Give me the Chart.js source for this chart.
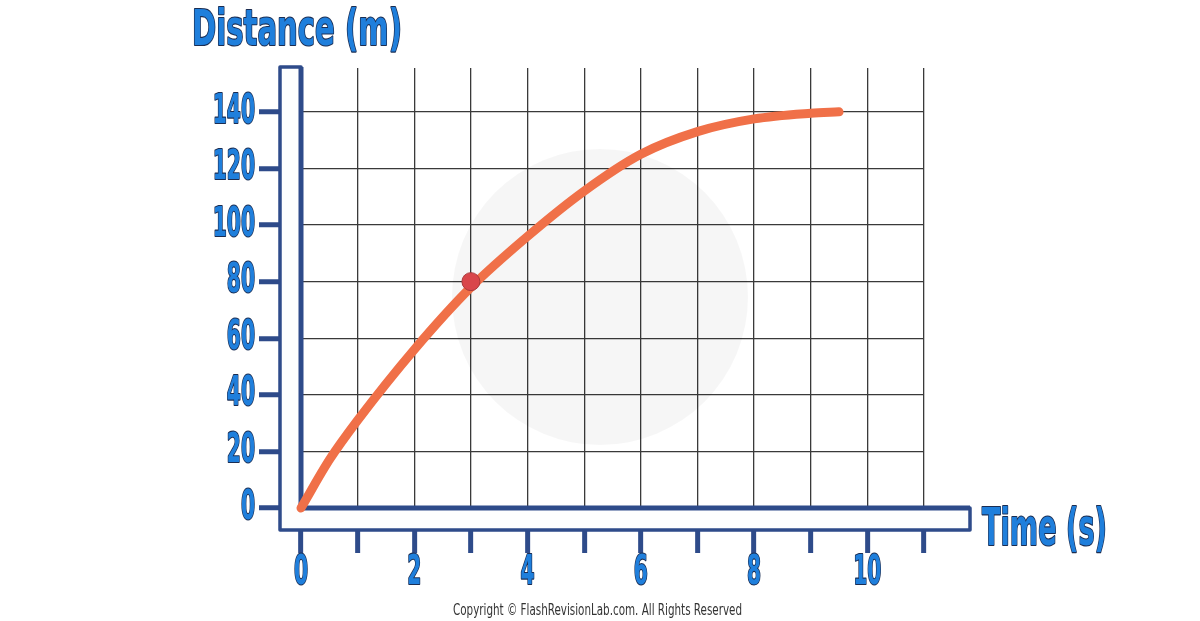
<!DOCTYPE html>
<html>
<head>
<meta charset="utf-8">
<script src="https://cdn.jsdelivr.net/npm/chart.js@4"></script>
<style>
  html, body { margin: 0; padding: 0; background: #ffffff; }
  canvas { display: block; }
</style>
</head>
<body>
<canvas id="distanceChart" width="1200" height="621"></canvas>
<script>
// values
const timeValues = [0, 0.5, 1, 2, 3, 4, 5, 6, 7, 8, 9, 9.5];
const distanceValues = [0, 17, 31, 56, 78, 96, 112, 125, 133, 137.5, 139.5, 140];
const markedPoint = [{ x: 3, y: 80 }];
const xTickLabels = ['0', '', '2', '', '4', '', '6', '', '8', '', '10', ''];
const yTickStep = 20;

const NAVY = '#2e4b8a';
const BLUE = '#1f7fdc';
const OUTLINE = '#1b2d52';
const FONT = "'Liberation Sans Narrow', 'DejaVu Sans Condensed', sans-serif";

// outlined text, squeezed sideways by sx (the original font is very condensed)
function outlinedText(ctx, text, x, y, size, sx, align, baseline) {
    ctx.save();
    ctx.font = 'bold ' + size + 'px ' + FONT;
    const w = ctx.measureText(text).width * sx;
    let x0 = x;
    if (align === 'right') x0 = x - w;
    if (align === 'center') x0 = x - w / 2;
    ctx.translate(x0, y);
    ctx.scale(sx, 1);
    ctx.textAlign = 'left';
    ctx.textBaseline = baseline || 'alphabetic';
    ctx.lineJoin = 'round';
    ctx.strokeStyle = OUTLINE;
    ctx.lineWidth = 2.2;
    ctx.strokeText(text, 0, 0);
    ctx.fillStyle = BLUE;
    ctx.fillText(text, 0, 0);
    ctx.restore();
}

function fitScale(ctx, text, size, width) {
    ctx.save();
    ctx.font = 'bold ' + size + 'px ' + FONT;
    const w = ctx.measureText(text).width;
    ctx.restore();
    return width / w;
}

const decorPlugin = {
    id: 'decor',
    beforeDatasetsDraw(chart) {
        const ctx = chart.ctx;
        const a = chart.chartArea;

        // faint watermark disc
        ctx.save();
        ctx.fillStyle = 'rgba(0,0,0,0.035)';
        ctx.beginPath();
        ctx.arc(600, 297, 148, 0, Math.PI * 2);
        ctx.fill();
        ctx.restore();

        // hollow L-shaped axes
        const left = a.left - 21, bottom = a.bottom + 22;
        const top = a.top - 1, right = 970;
        ctx.save();
        ctx.lineJoin = 'round';
        ctx.beginPath();
        ctx.moveTo(left, top);
        ctx.lineTo(a.left, top);
        ctx.lineTo(a.left, a.bottom);
        ctx.lineTo(right, a.bottom);
        ctx.lineTo(right, bottom);
        ctx.lineTo(left, bottom);
        ctx.closePath();
        ctx.fillStyle = '#fdfefe';
        ctx.fill();
        ctx.strokeStyle = NAVY;
        ctx.lineWidth = 3.5;
        ctx.stroke();
        ctx.lineWidth = 5;
        ctx.beginPath();
        ctx.moveTo(a.left, top);
        ctx.lineTo(a.left, a.bottom);
        ctx.lineTo(right, a.bottom);
        ctx.stroke();
        ctx.restore();
    },
    afterDraw(chart) {
        const ctx = chart.ctx;
        const xs = chart.scales.x, ys = chart.scales.y;

        // tick labels, placed from the scales
        ys.ticks.forEach((t) => {
            outlinedText(ctx, String(t.value), 255, ys.getPixelForValue(t.value), 41, 0.55, 'right', 'middle');
        });
        xs.ticks.forEach((t) => {
            const label = xTickLabels[t.value] || '';
            if (label) outlinedText(ctx, label, xs.getPixelForValue(t.value), 573, 41, 0.55, 'center', 'middle');
        });

        outlinedText(ctx, 'Distance (m)', 192, 45, 50, fitScale(ctx, 'Distance (m)', 50, 210), 'left');
        outlinedText(ctx, 'Time (s)', 982, 545, 52, fitScale(ctx, 'Time (s)', 52, 125), 'left');

        ctx.save();
        ctx.font = '16px ' + FONT;
        const txt = 'Copyright \u00A9 FlashRevisionLab.com. All Rights Reserved';
        const w = ctx.measureText(txt).width;
        ctx.translate(453, 615);
        ctx.scale(289 / w, 1);
        ctx.fillStyle = '#333333';
        ctx.fillText(txt, 0, 0);
        ctx.restore();
    }
};

const ctx = document.getElementById('distanceChart').getContext('2d');
const distanceChart = new Chart(ctx, {
    type: 'line',
    data: {
        datasets: [
            {
                data: markedPoint,
                showLine: false,
                pointRadius: 9,
                pointBackgroundColor: '#d9464b',
                pointBorderColor: '#a9393b',
                pointBorderWidth: 1,
                clip: false,
            },
            {
                data: timeValues.map((t, i) => ({ x: t, y: distanceValues[i] })),
                borderColor: '#f07048',
                borderWidth: 9,
                borderCapStyle: 'round',
                cubicInterpolationMode: 'monotone',
                pointRadius: 0,
                fill: false,
                clip: false,
            },
        ],
    },
    options: {
        responsive: false,
        animation: false,
        devicePixelRatio: 1,
        layout: { padding: { top: 68, right: 276, left: 0, bottom: 0 } },
        plugins: {
            legend: { display: false },
            tooltip: { enabled: false },
        },
        scales: {
            x: {
                type: 'linear',
                min: 0,
                max: 11,
                afterFit: (scale) => { scale.height = 113; },
                border: { display: false },
                grid: {
                    color: '#3a3a3a',
                    lineWidth: 1.3,
                    tickColor: NAVY,
                    tickWidth: 5,
                    tickLength: 45,
                },
                ticks: {
                    stepSize: 1,
                    includeBounds: false,
                    autoSkip: false,
                    display: false,
                },
            },
            y: {
                type: 'linear',
                min: 0,
                max: 155.5,
                afterFit: (scale) => { scale.width = 301; },
                border: { display: false },
                grid: {
                    color: '#3a3a3a',
                    lineWidth: 1.3,
                    tickColor: NAVY,
                    tickWidth: 5,
                    tickLength: 42,
                },
                ticks: {
                    stepSize: yTickStep,
                    includeBounds: false,
                    display: false,
                },
            },
        },
    },
    plugins: [decorPlugin],
});
</script>
</body>
</html>
